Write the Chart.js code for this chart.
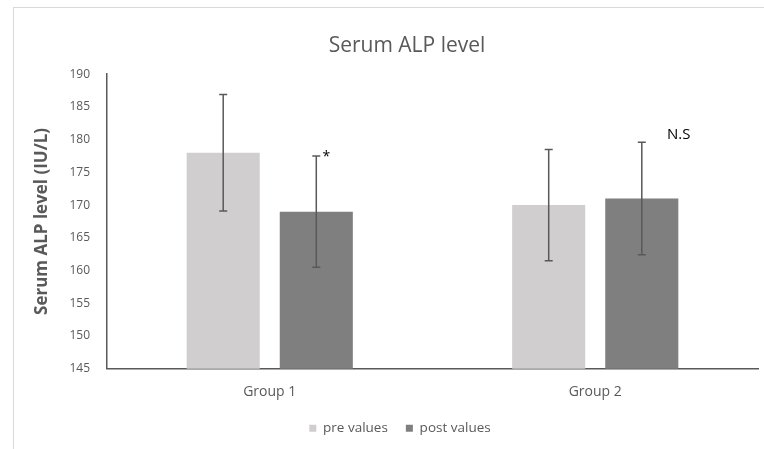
<!DOCTYPE html>
<html>
<head>
<meta charset="utf-8">
<script src="https://cdn.jsdelivr.net/npm/chart.js@4.4.1/dist/chart.umd.min.js"></script>
<style>
    body { margin:0; background:white; overflow:hidden; }
    #wrap { position:relative; width:764px; height:449px; overflow:hidden; }
    #frame { position:absolute; left:13px; top:7px; width:800px; height:500px; border-top:1px solid #d9d9d9; border-left:1px solid #d9d9d9; }
    canvas { position:absolute; left:0; top:0; }
</style>
</head>
<body>
<div id="wrap">
    <div id="frame"></div>
    <canvas id="chartALP" width="764" height="449"></canvas>
</div>
<script>
// datos
const categories = ['Group 1', 'Group 2'];
const preValues = [178, 170];
const postValues = [169, 171];
const preErrors = [8.9, 8.5];
const postErrors = [8.5, 8.6];
const postMarks = ['*', 'N.S'];
const yTicks = [145, 150, 155, 160, 165, 170, 175, 180, 185, 190];

const FONT = "'Open Sans', sans-serif";

// barras de error (desviacion)
const errorBars = {
    id: 'errorBars',
    afterDatasetsDraw(chart) {
        const ctx = chart.ctx;
        const y = chart.scales.y;
        chart.data.datasets.forEach((ds, i) => {
            const meta = chart.getDatasetMeta(i);
            meta.data.forEach((bar, j) => {
                const v = ds.data[j], e = ds.errors[j];
                const top = y.getPixelForValue(v + e);
                const bot = y.getPixelForValue(v - e);
                ctx.save();
                ctx.strokeStyle = '#595959';
                ctx.lineWidth = 1.5;
                ctx.beginPath();
                ctx.moveTo(bar.x, top); ctx.lineTo(bar.x, bot);
                ctx.moveTo(bar.x - 4, top); ctx.lineTo(bar.x + 4, top);
                ctx.moveTo(bar.x - 4, bot); ctx.lineTo(bar.x + 4, bot);
                ctx.stroke();
                ctx.restore();
            });
        });
    }
};

// marcas de significancia sobre las barras post
const sigMarks = {
    id: 'sigMarks',
    afterDatasetsDraw(chart, args, opts) {
        const ctx = chart.ctx;
        const y = chart.scales.y;
        const meta = chart.getDatasetMeta(1);
        const ds = chart.data.datasets[1];
        postMarks.forEach((m, j) => {
            const bar = meta.data[j];
            const off = opts.offsets[j];
            const top = y.getPixelForValue(ds.data[j] + ds.errors[j]);
            ctx.save();
            ctx.fillStyle = '#000';
            ctx.font = opts.fonts[j];
            ctx.textAlign = 'center';
            ctx.textBaseline = 'middle';
            ctx.fillText(m, bar.x + off[0], top + off[1]);
            ctx.restore();
        });
    }
};

// el grafico original es mas ancho que la captura: titulo y leyenda quedan corridos a la derecha
const shiftBoxes = {
    id: 'shiftBoxes',
    afterLayout(chart, args, opts) {
        if (chart.titleBlock) { chart.titleBlock.left += opts.title; chart.titleBlock.right += opts.title; }
        if (chart.legend) { chart.legend.left += opts.legend; chart.legend.right += opts.legend; }
    }
};

new Chart(document.getElementById('chartALP'), {
    type: 'bar',
    data: {
        labels: categories,
        datasets: [
            { label: 'pre values', data: preValues, errors: preErrors, backgroundColor: '#d0cece', borderWidth: 0 },
            { label: 'post values', data: postValues, errors: postErrors, backgroundColor: '#7f7f7f', borderWidth: 0 }
        ]
    },
    options: {
        responsive: false,
        animation: false,
        categoryPercentage: 0.572,
        barPercentage: 0.785,
        layout: { padding: { left: 0, right: 6, top: 0, bottom: 4 } },
        scales: {
            x: {
                afterFit: (s) => { s.height -= 12; },
                grid: { display: false, drawTicks: false },
                border: { display: true, color: '#595959', width: 1.5 },
                ticks: { color: '#595959', font: { family: FONT, size: 14 }, padding: 15 }
            },
            y: {
                min: 145, max: 190,
                afterBuildTicks: (s) => { s.ticks = yTicks.map(v => ({ value: v })); },
                afterFit: (s) => { s.width = 107; },
                grid: { display: false, drawTicks: false },
                border: { display: true, color: '#595959', width: 1.5 },
                ticks: { color: '#595959', font: { family: FONT, size: 12 }, padding: 17 },
                title: { display: true, text: 'Serum ALP level (IU/L)', color: '#595959',
                    font: { family: FONT, size: 17, weight: 'bold' }, padding: { top: 32, bottom: 0 } }
            }
        },
        plugins: {
            title: { display: true, text: 'Serum ALP level', color: '#595959',
                font: { family: FONT, size: 21, weight: 'normal' }, padding: { top: 33, bottom: 16 } },
            legend: {
                position: 'bottom',
                labels: { boxWidth: 7, boxHeight: 7, padding: 18, color: '#595959',
                    font: { family: FONT, size: 13.5 } }
            },
            tooltip: { enabled: false },
            shiftBoxes: { title: 28, legend: 21 },
            sigMarks: { fonts: ["14px 'Open Sans', sans-serif", "15px 'Open Sans', sans-serif"], offsets: [[10, 1], [37, -8]] }
        }
    },
    plugins: [errorBars, sigMarks, shiftBoxes]
});
</script>
</body>
</html>
